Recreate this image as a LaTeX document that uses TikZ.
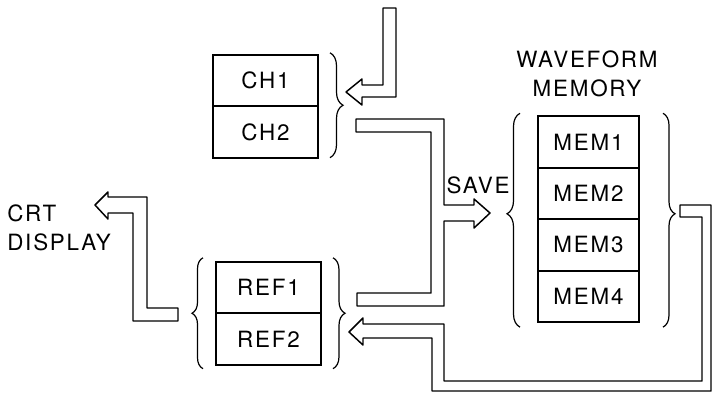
\documentclass[tikz,border=0pt]{standalone}
\usepackage{fontspec}
\setmainfont[LetterSpace=8]{TeX Gyre Heros}
\usetikzlibrary{positioning,calc,decorations.pathreplacing}

\tikzset{
  cell/.style={draw, line width=1.4pt, outer sep=0pt, inner sep=0pt,
    minimum width=78.75pt, minimum height=38.6pt,
    font=\fontsize{16.8}{21.75}\selectfont},
  memcell/.style={cell, minimum width=75.75pt},
  txt/.style={inner sep=0pt, align=center, font=\fontsize{16.8}{21.75}\selectfont},
  pipe/.style={draw, line width=1.1pt, line join=round},
  curly/.style={decorate, line width=0.9pt},
}

\begin{document}
\begin{tikzpicture}[x=0.75pt, y=-0.75pt]
    \useasboundingbox (0,0) rectangle (712,393);
    % Canali
    \node[cell] (ch1) at (265.5,80.5) {CH1};
    \node[cell, below=0pt of ch1] (ch2) {CH2};
    % Riferimenti
    \node[cell] (ref1) at (268.5,287.5) {REF1};
    \node[cell, below=0pt of ref1] (ref2) {REF2};
    % Memoria
    \node[memcell] (mem1) at (588.5,142) {MEM1};
    \node[memcell, below=0pt of mem1] (mem2) {MEM2};
    \node[memcell, below=0pt of mem2] (mem3) {MEM3};
    \node[memcell, below=0pt of mem3] (mem4) {MEM4};
    % Scritte
    \node[txt, anchor=north] (wfm) at (587,50) {WAVEFORM\\MEMORY};
    \node[txt, anchor=base] (save) at (478,193) {SAVE};
    \node[txt, anchor=north west, align=left] (crt) at (7,204) {CRT\\DISPLAY};
    % Graffe
    \draw[curly, decoration={brace, amplitude=9.75pt}]
        ($(ch1.north east)+(12,-2)$) -- ($(ch2.south east)+(12,0)$);
    \draw[curly, decoration={brace, amplitude=8.25pt}]
        ($(ref2.south west)+(-13,4)$) -- ($(ref1.north west)+(-13,-4)$);
    \draw[curly, decoration={brace, amplitude=9pt}]
        ($(ref1.north east)+(12,-4)$) -- ($(ref2.south east)+(12,4)$);
    \draw[curly, decoration={brace, amplitude=9.75pt, aspect=0.53}]
        ($(mem4.south west)+(-18,5)$) -- ($(mem1.north west)+(-18,-3)$);
    \draw[curly, decoration={brace, amplitude=9pt, aspect=0.47}]
        ($(mem1.north east)+(24,-3)$) -- ($(mem4.south east)+(24,5)$);
    % Frecce a doppia linea
    \draw[pipe] (383,8) -- (396,8) -- (396,97) -- (362,97) -- (362,105) -- (346,92)
        -- (362,79) -- (362,85) -- (383,85) -- cycle;
    \draw[pipe] (356,119) -- (444,119) -- (444,205) -- (474,205) -- (474,199) -- (490,213)
        -- (474,228) -- (474,221) -- (444,221) -- (444,306) -- (357,306) -- (357,293)
        -- (431,293) -- (431,132) -- (356,132) -- cycle;
    \draw[pipe] (680,205) -- (711,205) -- (711,391) -- (432,391) -- (432,338) -- (363,338)
        -- (363,345) -- (349,332) -- (363,318) -- (363,324) -- (444,324) -- (444,381)
        -- (702,381) -- (702,217) -- (680,217) -- cycle;
    \draw[pipe] (178,308) -- (147,308) -- (147,197) -- (108,197) -- (108,192) -- (95,205)
        -- (108,219) -- (108,213) -- (133,213) -- (133,321) -- (178,321) -- cycle;
\end{tikzpicture}
\end{document}
